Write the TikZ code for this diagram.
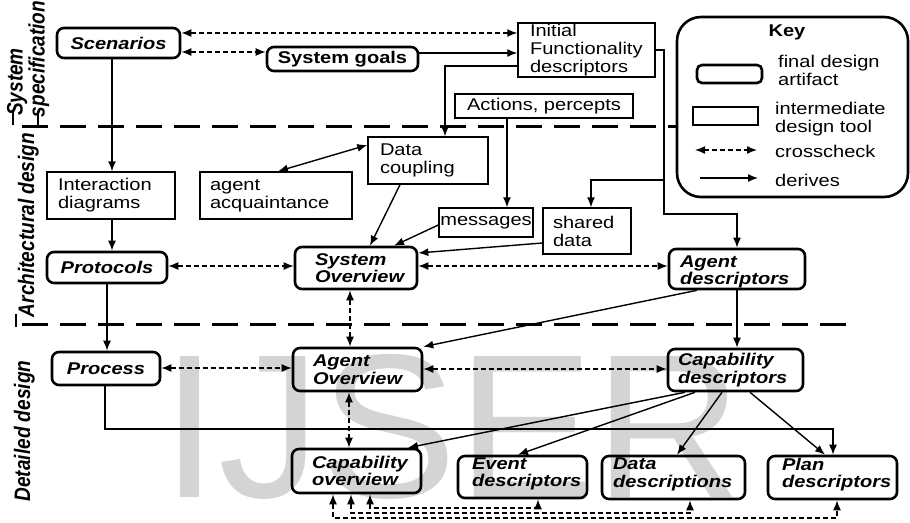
\documentclass[tikz,border=0pt]{standalone}
\usepackage{fontspec}
\setmainfont{Liberation Sans}[FakeStretch=1.18]
\newfontfamily\phasefont{Liberation Sans}[FakeStretch=0.85]
\newfontfamily\markfont{Liberation Sans}
\usetikzlibrary{arrows.meta}

% struts that move a node's text block up (extra depth) or down (extra height)
\newcommand\liftstrut{\rule[-9.6pt]{0pt}{9.6pt}}
\newcommand\sinkstrut{\rule{0pt}{18pt}}

\tikzset{
  txt/.style={inner sep=0pt, font=\fontsize{17}{18}\selectfont},
  artifact/.style={txt, draw, line width=2.6pt, rounded corners=7pt,
    font=\fontsize{17}{17.5}\selectfont\bfseries\itshape},
  tool/.style={txt, draw, line width=1.4pt},
  derive/.style={line width=1.4pt, -{Latex[length=10pt,width=8pt]}},
  derivetwo/.style={line width=1.4pt, {Latex[length=10pt,width=8pt]}-{Latex[length=10pt,width=8pt]}},
  xcheck/.style={line width=1.4pt, dash pattern=on 5pt off 3pt,
    {Latex[length=10pt,width=8pt]}-{Latex[length=10pt,width=8pt]}},
  phaseline/.style={line width=3pt, dash pattern=on 26pt off 12pt},
  phaselabel/.style={rotate=90, anchor=base, inner sep=0pt,
    font=\phasefont\fontsize{22.4}{22.4}\selectfont\bfseries\itshape},
  phasetick/.style={line width=2pt},
}

\begin{document}
\begin{tikzpicture}[x=1pt,y=-1pt]
\useasboundingbox (0,0) rectangle (910,522);

% watermark behind everything
\node[anchor=base west, inner sep=0pt, text=black!17,
      font=\markfont\fontsize{205}{205}\selectfont] (mark) at (161,497) {IJSER};

% phase labels and separators
\node[phaselabel] (lsys) at (22.5,82) {System};
\node[phaselabel] (lspec) at (44.5,59) {specification};
\node[phaselabel] (larch) at (34,225) {Architectural design};
\node[phaselabel] (ldet) at (30,431) {Detailed design};
\draw[phasetick] (13,111) -- (13,125);
\draw[phasetick] (38,111) -- (38,125);
\draw[phasetick] (16,314) -- (16,327);
\draw[phaseline] (22,126) -- (677,126);
\draw[phaseline] (22,324) -- (848,324);

% system specification
\node[artifact, minimum width=123pt, minimum height=30pt] (scen) at (118.5,43) {Scenarios};
\node[artifact, font=\fontsize{17}{17.5}\selectfont\bfseries,
      minimum width=151pt, minimum height=24pt] (goals) at (342.5,59) {System goals};
\node[tool, text width=113pt, inner xsep=12pt, align=left, minimum height=54pt]
      (init) at (586.5,50) {Initial\\Functionality\\descriptors};
\node[tool, minimum width=178pt, minimum height=24pt] (acts) at (544,106) {Actions, percepts};

% architectural design
\node[tool, text width=96pt, inner xsep=12pt, align=left, minimum height=47pt]
      (dcoup) at (428,160.5) {Data\\coupling};
\node[tool, text width=106pt, inner xsep=11pt, align=left, minimum height=47pt]
      (inter) at (111,195.5) {Interaction\\diagrams};
\node[tool, text width=132pt, inner xsep=10pt, align=left, minimum height=47pt]
      (acq) at (276,195.5) {agent\\acquaintance};
\node[tool, minimum width=94pt, minimum height=29pt] (msg) at (486,222.5) {messages};
\node[tool, text width=68pt, inner xsep=10pt, align=left, minimum height=46pt]
      (shared) at (587,231) {shared\\data};
\node[artifact, minimum width=120pt, minimum height=31pt] (prot) at (107,267.5) {Protocols};
\node[artifact, text width=82pt, inner xsep=20pt, align=left, minimum height=42pt]
      (sov) at (356,268) {System\\Overview};
\node[artifact, text width=114pt, inner xsep=11pt, align=left, minimum height=40pt]
      (adesc) at (737,269) {\sinkstrut Agent\\descriptors};

% detailed design
\node[artifact, minimum width=108pt, minimum height=33pt] (proc) at (106,368.5) {Process};
\node[artifact, text width=89pt, inner xsep=20pt, align=left, minimum height=43pt]
      (aov) at (357.5,369.5) {Agent\\Overview};
\node[artifact, text width=115pt, inner xsep=10pt, align=left, minimum height=42pt]
      (cdesc) at (735.5,370) {Capability\\descriptors};
\node[artifact, text width=89pt, inner xsep=20pt, align=left, minimum height=44pt]
      (cov) at (356.5,471) {Capability\\overview};
\node[artifact, text width=101pt, inner xsep=14pt, align=left, minimum height=42pt]
      (evd) at (522.5,477) {Event\\descriptors\liftstrut};
\node[artifact, text width=121pt, inner xsep=11pt, align=left, minimum height=43pt]
      (dd) at (673.5,477.5) {Data\\descriptions\liftstrut};
\node[artifact, text width=101pt, inner xsep=14pt, align=left, minimum height=43pt]
      (pd) at (832.5,477.5) {Plan\\descriptors\liftstrut};

% key
\node[draw, line width=2.6pt, rounded corners=24pt, minimum width=231pt,
      minimum height=180pt, inner sep=0pt] (key) at (792.5,107) {};
\node[txt, font=\fontsize{17}{18}\selectfont\bfseries] (keytitle) at (787,32) {Key};
\node[artifact, minimum width=65pt, minimum height=18pt, rounded corners=5pt] (keyfin) at (729.5,74) {};
\node[tool, minimum width=65pt, minimum height=18pt] (keytool) at (725.5,116) {};
\node[txt, anchor=west, align=left] (keyfintext) at (778,70) {final design\\artifact};
\node[txt, anchor=west, align=left] (keytooltext) at (775,119.5) {intermediate\\design tool};
\node[txt, anchor=west] (keyxtext) at (775,151) {crosscheck};
\node[txt, anchor=west] (keydtext) at (775,180) {derives};
\coordinate (kx1) at (695,150);
\coordinate (kx2) at (757,150);
\coordinate (kd1) at (700,178);
\coordinate (kd2) at (758,178);
\draw[xcheck] (kx1) -- (kx2);
\draw[derive] (kd1) -- (kd2);

% crosschecks
\draw[xcheck] (scen.east |- 0,33) -- (init.west |- 0,33);
\draw[xcheck] (scen.east |- 0,52) -- (goals.west |- 0,52);
\draw[xcheck] (prot.east |- 0,266) -- (sov.west |- 0,266);
\draw[xcheck] (sov.east |- 0,266) -- (adesc.west |- 0,266);
\draw[xcheck] (sov.south -| 350,0) -- (aov.north -| 350,0);
\draw[xcheck] (proc.east |- 0,368) -- (aov.west |- 0,368);
\draw[xcheck] (aov.east |- 0,369) -- (cdesc.west |- 0,369);
\draw[xcheck] (aov.south -| 349,0) -- (cov.north -| 349,0);
\draw[xcheck] (cov.south -| 370,0) |- (538,508) -- (evd.south -| 538,0);
\draw[xcheck] (cov.south -| 351,0) |- (690,513) -- (dd.south -| 690,0);
\draw[xcheck] (cov.south -| 333,0) |- (837,518) -- (pd.south -| 837,0);

% derivations
\draw[derive] (goals.east |- 0,53) -- (init.west |- 0,53);
\draw[derive] (init.west |- 0,66) -| (dcoup.north -| 445,0);
\draw[derive] (acts.south -| 507,0) -- (msg.north -| 507,0);
\draw[derive] (init.east |- 0,50) -| (664,214) -| (adesc.north);
\coordinate (shbranch) at (664,180);
\draw[derive] (shbranch) -| (shared.north -| 591,0);
\draw[derivetwo] (acq.north -| 278,0) -- (dcoup.west |- 0,145);
\draw[derive] (dcoup.south -| 400,0) -- (sov.north -| 370,0);
\draw[derive] (msg.west |- 0,225) -- (sov.north -| 394,0);
\draw[derive] (shared.west |- 0,243) -- (sov.east |- 0,253);
\draw[derive] (scen.south -| 112,0) -- (inter.north -| 112,0);
\draw[derive] (inter.south -| 112,0) -- (prot.north -| 112,0);
\draw[derive] (prot.south -| 107,0) -- (proc.north -| 107,0);
\draw[derive] (adesc.south -| 697,0) -- (aov.north east);
\draw[derive] (adesc.south) -- (cdesc.north -| adesc.south);
\draw[derive] (proc.south -| 105,0) |- (833,429) -- (pd.north -| 833,0);
\draw[derive] (cdesc.south -| 685,0) -- (cov.north -| 408,0);
\draw[derive] (cdesc.south -| 695,0) -- (evd.north -| 518,0);
\draw[derive] (cdesc.south -| 722,0) -- (dd.north -| 677,0);
\draw[derive] (cdesc.south -| 750,0) -- (pd.north -| 825,0);
\end{tikzpicture}
\end{document}
